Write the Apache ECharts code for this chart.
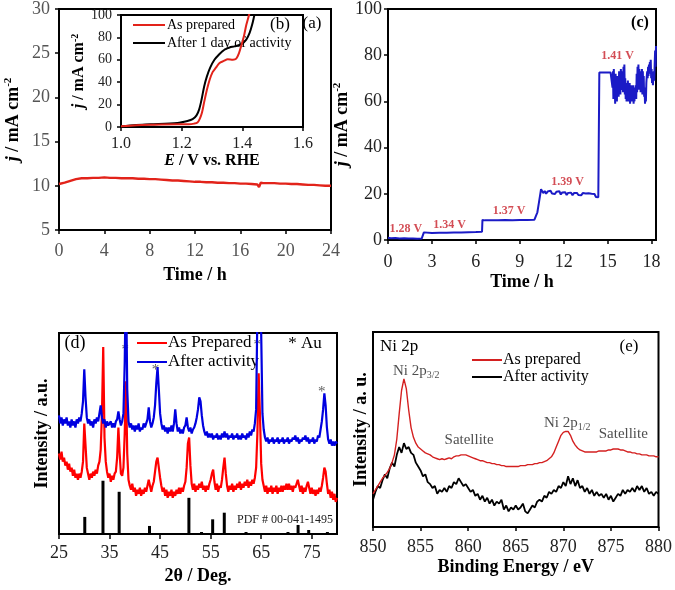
<!DOCTYPE html>
<html>
<head>
<meta charset="utf-8">
<script src="https://cdn.jsdelivr.net/npm/echarts@6/dist/echarts.min.js"></script>
<style>
html, body { margin: 0; padding: 0; background: #fff; }
#chart { width: 675px; height: 590px; }
</style>
</head>
<body>
<div id="chart"></div>
<script>
// (a) chronoamperometry at 10 mA cm-2
var chronoTime = [0,0.5,1,1.5,2,2.5,3,3.5,4,4.5,5,5.5,6,6.5,7,7.5,8,8.5,9,9.5,10,10.5,11,11.5,12,12.5,13,13.5,14,14.5,15,15.5,16,16.5,17,17.5,17.65,17.8,18,18.5,19,19.5,20,20.5,21,21.5,22,22.5,23,23.5,24];
var chronoCurrent = [10.2,10.35,10.55,10.75,10.85,10.85,10.9,10.9,10.95,10.9,10.9,10.85,10.85,10.85,10.8,10.8,10.75,10.75,10.7,10.65,10.6,10.6,10.55,10.5,10.45,10.45,10.4,10.4,10.35,10.35,10.3,10.3,10.25,10.25,10.2,10.15,9.85,10.35,10.3,10.3,10.3,10.25,10.25,10.2,10.2,10.15,10.1,10.1,10.05,10.0,10.0];

// (b) inset LSV
var lsvPotentialAsPrepared = [1.0,1.05,1.097,1.186,1.224,1.241,1.252,1.26,1.267,1.274,1.283,1.292,1.302,1.313,1.324,1.339,1.352,1.369,1.38,1.389,1.397,1.406,1.413,1.421,1.43];
var lsvAsPrepared = [0.6,1.6,2,2.4,2.4,3,4,7.5,13,22,33,42,49,53,57,59,60.5,60,61,66,73,82,91,99,108];
var lsvPotentialAfter = [1.0,1.05,1.097,1.186,1.219,1.236,1.249,1.258,1.266,1.274,1.283,1.294,1.308,1.324,1.341,1.358,1.374,1.397,1.413,1.424,1.432,1.439,1.445];
var lsvAfter = [0.6,1.8,2.4,3.6,5.4,7,10.4,16,25,36,45,53,60,65,69,71,72,74,78,84,91,99,106];

// (c) multi-step chronoamperometry
var stepTime = [0,0.2,0.5,0.8,1.1,1.4,1.7,2.0,2.3,2.42,
  2.45,2.5,3,3.5,4,4.5,5,5.5,6,6.42,
  6.45,6.6,7,7.5,8,8.5,9,9.5,10,10.1,
  10.2,10.3,10.4,10.45,
  10.5,10.6,10.7,10.8,10.9,11.0,11.1,11.2,11.3,11.4,11.5,11.6,11.7,11.8,11.9,12.0,12.1,12.2,12.3,12.4,
  12.5,12.6,12.7,12.8,12.9,13.0,13.1,13.2,13.3,13.4,13.5,13.6,13.7,13.8,13.9,14.0,14.1,14.2,14.3,
  14.36,14.4,14.43,14.8,15.2,15.27];
var stepCurrent = [1.0,0.8,0.9,0.7,0.8,0.6,0.7,0.5,0.6,0.5,
  3.3,2.8,3.0,3.1,3.1,3.3,3.3,3.4,3.5,3.6,
  8.7,8.5,8.6,8.6,8.7,8.6,8.7,8.7,8.8,9.0,
  12,16,20,22,
  21.5,20.3,21.2,20.0,21.0,20.4,21.3,20.1,20.8,19.9,20.9,20.2,21.1,19.7,20.6,19.8,20.7,19.5,20.4,19.6,
  20.5,19.4,20.3,19.6,20.4,19.5,20.2,19.4,20.3,19.6,20.1,19.4,20.2,19.5,20.0,19.3,19.9,18.6,19.2,
  18.5,18.8,72.5,72.5,72.5,72.4];
var noiseStart = 15.3, noiseStep = 0.03;
var noiseCurrent = [72,66,73,61,74,64,70,59,72,63,69,60,71,64,70,62,73,66,71,63,
  74,67,72,65,73,64,75,66,76,63,70,61,68,60,67,62,69,60,66,61,
  68,59,66,62,67,60,65,61,67,59,64,60,66,62,67,61,72,64,75,66,
  76,65,74,67,73,64,72,66,74,63,73,65,71,62,66,59,64,60,68,71,
  73,70,75,71,76,72,77,73,78,70,74,68,72,67,71,73,69,76,82,75,84];
var stepVoltages = ['1.28 V','1.34 V','1.37 V','1.39 V','1.41 V'];
var stepLabelTime = [1.21,4.21,8.27,12.27,15.67];
var stepLabelCurrent = [5.0,6.5,12.7,25.2,79.6];

// (d) XRD, sampled every 0.25 deg from 25 to 80
var xrdStart = 25, xrdStep = 0.25;
var xrdAsPrepared = [
  40,37,41,36,38,34,36,32,35,31,33,29,32,28,30,27,30,28,31,36,
  55,44,33,30,27,30,28,31,29,32,30,34,36,42,60,93,48,36,31,28,
  30,26,29,27,30,31,38,53,40,30,29,33,50,76,40,27,24,22,25,21,
  23,19,22,20,23,19,22,20,23,21,24,27,24,21,24,26,31,36,38,33,
  28,24,21,23,19,22,18,21,19,22,18,21,19,22,20,23,20,23,21,24,
  26,33,45,48,34,25,22,25,21,24,22,25,23,26,22,24,21,24,22,25,
  27,30,32,26,22,25,21,24,23,27,33,38,30,24,21,24,22,25,21,24,
  22,25,23,26,22,25,23,26,24,27,23,26,24,27,25,28,33,50,80,60,
  35,27,24,21,24,20,23,21,24,20,23,21,24,20,23,21,24,21,24,22,
  25,22,25,22,24,21,24,23,25,27,24,21,24,20,23,21,24,26,23,20,
  23,20,22,19,22,20,23,21,24,28,33,31,25,20,22,18,21,17,20,16,
  18];
var xrdAfter = [
  59,55,58,54,57,55,58,54,56,53,57,54,56,53,57,55,58,56,60,66,
  82,68,58,55,57,54,56,53,57,55,58,56,60,64,58,55,57,53,56,54,
  54,56,53,55,53,56,57,61,57,54,56,60,85,130,72,56,53,55,52,54,
  51,54,52,55,51,53,52,55,53,55,57,63,56,53,55,58,64,75,83,72,
  60,55,52,54,51,53,50,53,51,54,51,55,62,55,51,53,50,52,50,53,
  54,58,53,51,53,50,52,53,55,58,62,68,66,59,54,51,49,51,48,50,
  48,50,47,49,48,50,47,49,47,50,48,51,48,50,47,49,48,50,47,49,
  48,50,47,49,47,50,48,49,47,50,48,51,49,52,51,55,62,110,130,130,
  100,60,52,48,46,48,45,47,46,48,45,47,46,48,45,47,46,48,45,47,
  46,48,45,47,46,48,47,49,46,48,45,47,46,48,47,49,46,48,45,47,
  46,48,45,47,46,49,48,52,56,62,70,64,53,47,45,47,44,46,44,46,
  45];
var pdfAngle = [30.1,33.7,36.9,42.9,50.7,53.2,55.4,57.7,62.0,70.3,72.3,74.4,78.1];
var pdfHeight = [8.5,26.5,21,4,18,1,7.3,10.6,1,1,4.5,2,1];
var auAngle = [38.1,44.1,64.2,77.0];
var auHeight = [91.5,81.6,94,70.8];
var xrdTicks = [25,35,45,55,65,75];

// (e) XPS Ni 2p, sampled every 0.25 eV from 850 to 880
var xpsStart = 850, xpsStep = 0.25;
var xpsAsPrepared = [
  17,19,21,23,25,26.5,28,30,33,37,45,58,70,76,71,60,51,46,43,41,
  40,39,38,37.5,37,36,35.5,35,34.5,35,34.5,35,35.5,35,36,36.5,36.5,37,37,37,
  36.5,36,35.5,35,34.5,34,34,33.5,33,33,32.5,32.5,32,32,31.5,31.5,31,31,31,31,
  31,31,31.5,31.5,31.5,32,32,32,32.5,32.5,33,33,33.5,34,35,36,38,41,44,47,
  48.5,49,49,47,44,42,40.5,39.5,39,38.5,38.5,38.5,38.5,38.5,38.5,39,39,39,39,39.5,
  39.5,40,40,40,39.5,39.5,39,38.5,38.5,38,38,37.5,37.5,37,37,37,36.5,36.5,36.5,36,
  36];
var xpsAfter = [
  14,18,21,20,24,27,25,30,33,31,37,41,38,43,40,41,38,37,33,31,
  29,26,27,23,22,20,21,17,19,18,20,18,21,20,23,22,25,23,21,22,
  20,18,19,16,17,14,16,13,15,12,14,11,13,12,14,9,11,8,10,9,
  11,9,10,12,8,7,9,11,10,13,14,13,16,15,18,17,19,18,21,20,
  23,21,26,22,25,21,24,20,21,18,20,17,19,16,18,16,17,15,17,14,
  16,13,15,17,16,19,17,19,18,20,18,21,19,21,18,20,17,18,16,18,
  17];
var xpsPeakNames = ['{b|Ni 2p}{s|3/2}', '{b|Satellite}', '{b|Ni 2p}{s|1/2}', '{b|Satellite}'];
var xpsPeakEnergy = [854.55, 860.1, 870.4, 876.3];
var xpsPeakLevel = [79.8, 44.8, 53.3, 47.9];

var SERIF = '"Liberation Serif", "Times New Roman", serif';

function pairs(xs, ys) {
  return xs.map(function (x, i) { return [x, ys[i]]; });
}
function sampled(start, step, ys) {
  return ys.map(function (y, i) { return [+(start + i * step).toFixed(3), y]; });
}
function merge(a, b) {
  var out = {};
  Object.keys(a).forEach(function (k) { out[k] = a[k]; });
  Object.keys(b || {}).forEach(function (k) {
    if (b[k] && typeof b[k] === 'object' && !Array.isArray(b[k]) && a[k] && typeof a[k] === 'object') {
      out[k] = merge(a[k], b[k]);
    } else {
      out[k] = b[k];
    }
  });
  return out;
}
function axis(gridIndex, extra) {
  return merge({
    type: 'value',
    gridIndex: gridIndex,
    axisLine: { show: true, onZero: false, lineStyle: { color: '#000', width: 2 } },
    axisTick: { show: true, inside: false, length: 4, lineStyle: { color: '#000', width: 1.5 } },
    splitLine: { show: false },
    axisLabel: { fontFamily: SERIF, fontSize: 18, color: '#222' },
    nameLocation: 'middle',
    nameTextStyle: { fontFamily: SERIF, fontSize: 18, fontWeight: 'bold', color: '#000' }
  }, extra);
}

var jRich = {
  i: { fontFamily: SERIF, fontSize: 18, fontWeight: 'bold', fontStyle: 'italic', lineHeight: 20 },
  n: { fontFamily: SERIF, fontSize: 18, fontWeight: 'bold', lineHeight: 20 },
  sup: { fontFamily: SERIF, fontSize: 11, fontWeight: 'bold', verticalAlign: 'top', lineHeight: 12 }
};
var jRichSmall = {
  i: { fontFamily: SERIF, fontSize: 16, fontWeight: 'bold', fontStyle: 'italic', lineHeight: 18 },
  n: { fontFamily: SERIF, fontSize: 16, fontWeight: 'bold', lineHeight: 18 },
  sup: { fontFamily: SERIF, fontSize: 10, fontWeight: 'bold', verticalAlign: 'top', lineHeight: 10 }
};
var noAxisLabel = { show: false };

var chart = echarts.init(document.getElementById('chart'));

var option = {
  animation: false,
  backgroundColor: '#fff',
  grid: [
    { left: 59, top: 9, width: 272, height: 221, show: true, borderColor: '#000', borderWidth: 2 },
    { left: 121, top: 15, width: 182, height: 112, show: true, borderColor: '#000', borderWidth: 2, backgroundColor: '#fff' },
    { left: 388, top: 9, width: 268, height: 231, show: true, borderColor: '#000', borderWidth: 2 },
    { left: 59, top: 333, width: 278, height: 201, show: true, borderColor: '#000', borderWidth: 2 },
    { left: 373, top: 332, width: 286, height: 195, show: true, borderColor: '#000', borderWidth: 2 }
  ],
  xAxis: [
    axis(0, { min: 0, max: 24, interval: 4, name: 'Time / h', nameGap: 36,
      axisLabel: { color: '#555', margin: 12 } }),
    axis(1, { min: 1.0, max: 1.6, interval: 0.2, name: '{i|E}{n| / V vs. RHE}', nameGap: 24,
      nameTextStyle: { rich: jRichSmall },
      axisLabel: { fontSize: 16, margin: 9, formatter: function (v) { return v.toFixed(1); } } }),
    axis(2, { min: 0, max: 18.3, name: 'Time / h', nameGap: 33,
      axisLabel: { margin: 13, customValues: [0, 3, 6, 9, 12, 15, 18] },
      axisTick: { customValues: [0, 3, 6, 9, 12, 15, 18] } }),
    axis(3, { min: 25, max: 80, name: '2θ / Deg.', nameGap: 33,
      axisLabel: { margin: 10, customValues: xrdTicks },
      axisTick: { length: 5, customValues: xrdTicks } }),
    axis(4, { min: 850, max: 880, interval: 5, name: 'Binding Energy / eV', nameGap: 31,
      axisLabel: { margin: 11 } })
  ],
  yAxis: [
    axis(0, { min: 5, max: 30, interval: 5, name: '{i|j}{n| / mA cm}{sup|-2}', nameGap: 36,
      nameTextStyle: { rich: jRich }, axisLabel: { color: '#555', margin: 9 } }),
    axis(1, { min: 0, max: 100, interval: 20, name: '{i|j}{n| / mA cm}{sup|-2}', nameGap: 33,
      nameTextStyle: { rich: jRichSmall }, axisLabel: { fontSize: 14, margin: 9 } }),
    axis(2, { min: 0, max: 100, interval: 20, name: '{i|j}{n| / mA cm}{sup|-2}', nameGap: 31,
      nameTextStyle: { rich: jRich }, axisLabel: { margin: 6 } }),
    axis(3, { min: 0, max: 100, name: 'Intensity / a.u.', nameGap: 8,
      axisTick: { show: false }, axisLabel: noAxisLabel }),
    axis(4, { min: 0, max: 100, name: 'Intensity / a. u.', nameGap: 3,
      axisTick: { show: false }, axisLabel: noAxisLabel })
  ],
  series: [
    { type: 'line', xAxisIndex: 0, yAxisIndex: 0, showSymbol: false,
      data: pairs(chronoTime, chronoCurrent), lineStyle: { color: '#e2231a', width: 2.4 } },
    { type: 'line', xAxisIndex: 1, yAxisIndex: 1, showSymbol: false, smooth: 0.3,
      data: pairs(lsvPotentialAfter, lsvAfter), lineStyle: { color: '#000', width: 2 } },
    { type: 'line', xAxisIndex: 1, yAxisIndex: 1, showSymbol: false, smooth: 0.3,
      data: pairs(lsvPotentialAsPrepared, lsvAsPrepared), lineStyle: { color: '#e2231a', width: 2 } },
    { type: 'line', xAxisIndex: 2, yAxisIndex: 2, showSymbol: false,
      data: pairs(stepTime, stepCurrent).concat(sampled(noiseStart, noiseStep, noiseCurrent)),
      lineStyle: { color: '#1b1bc6', width: 2 } },
    { type: 'scatter', xAxisIndex: 2, yAxisIndex: 2, symbolSize: 1, silent: true,
      itemStyle: { color: 'rgba(0,0,0,0)' },
      data: stepVoltages.map(function (v, i) { return { name: v, value: [stepLabelTime[i], stepLabelCurrent[i]] }; }),
      label: { show: true, position: 'inside', formatter: '{b}', fontFamily: SERIF, fontSize: 12,
        fontWeight: 'bold', color: '#c8202a' } },
    { type: 'bar', xAxisIndex: 3, yAxisIndex: 3, barWidth: 3, silent: true,
      data: pairs(pdfAngle, pdfHeight), itemStyle: { color: '#000' } },
    { type: 'line', xAxisIndex: 3, yAxisIndex: 3, showSymbol: false,
      data: sampled(xrdStart, xrdStep, xrdAsPrepared), lineStyle: { color: '#f00', width: 2.2 } },
    { type: 'line', xAxisIndex: 3, yAxisIndex: 3, showSymbol: false,
      data: sampled(xrdStart, xrdStep, xrdAfter), lineStyle: { color: '#0000e0', width: 2.2 } },
    { type: 'scatter', xAxisIndex: 3, yAxisIndex: 3, symbolSize: 1, silent: true,
      itemStyle: { color: 'rgba(0,0,0,0)' },
      data: pairs(auAngle, auHeight),
      label: { show: true, position: 'inside', formatter: '*', fontFamily: SERIF, fontSize: 15, color: '#333' } },
    { type: 'line', xAxisIndex: 4, yAxisIndex: 4, showSymbol: false,
      data: sampled(xpsStart, xpsStep, xpsAfter), lineStyle: { color: '#000', width: 1.8 } },
    { type: 'line', xAxisIndex: 4, yAxisIndex: 4, showSymbol: false,
      data: sampled(xpsStart, xpsStep, xpsAsPrepared), lineStyle: { color: '#d42020', width: 1.4 } },
    { type: 'scatter', xAxisIndex: 4, yAxisIndex: 4, symbolSize: 1, silent: true,
      itemStyle: { color: 'rgba(0,0,0,0)' },
      data: xpsPeakNames.map(function (n, i) { return { name: n, value: [xpsPeakEnergy[i], xpsPeakLevel[i]] }; }),
      label: { show: true, position: 'inside', formatter: '{b}', color: '#222',
        rich: {
          b: { fontFamily: SERIF, fontSize: 15, color: '#222', lineHeight: 18 },
          s: { fontFamily: SERIF, fontSize: 10, color: '#222', verticalAlign: 'bottom', lineHeight: 12 }
        } } }
  ],
  graphic: [
    { type: 'text', x: 312, y: 24, style: { text: '(a)', font: '17px ' + SERIF, fill: '#000', align: 'center', verticalAlign: 'middle' } },
    { type: 'text', x: 280, y: 25, style: { text: '(b)', font: '17px ' + SERIF, fill: '#000', align: 'center', verticalAlign: 'middle' } },
    { type: 'line', shape: { x1: 133, y1: 25, x2: 165, y2: 25 }, style: { stroke: '#e2231a', lineWidth: 2 } },
    { type: 'text', x: 167, y: 25, style: { text: 'As prepared', font: '14px ' + SERIF, fill: '#000', verticalAlign: 'middle' } },
    { type: 'line', shape: { x1: 133, y1: 43, x2: 165, y2: 43 }, style: { stroke: '#000', lineWidth: 2 } },
    { type: 'text', x: 167, y: 43, style: { text: 'After 1 day of activity', font: '14px ' + SERIF, fill: '#000', verticalAlign: 'middle' } },
    { type: 'text', x: 640, y: 23, style: { text: '(c)', font: 'bold 16px ' + SERIF, fill: '#000', align: 'center', verticalAlign: 'middle' } },
    { type: 'text', x: 75, y: 343, style: { text: '(d)', font: '18px ' + SERIF, fill: '#000', align: 'center', verticalAlign: 'middle' } },
    { type: 'line', shape: { x1: 137, y1: 343, x2: 167, y2: 343 }, style: { stroke: '#f00', lineWidth: 2 } },
    { type: 'text', x: 168, y: 343, style: { text: 'As Prepared', font: '17px ' + SERIF, fill: '#000', verticalAlign: 'middle' } },
    { type: 'line', shape: { x1: 137, y1: 362, x2: 167, y2: 362 }, style: { stroke: '#0000e0', lineWidth: 2 } },
    { type: 'text', x: 168, y: 362, style: { text: 'After activity', font: '17px ' + SERIF, fill: '#000', verticalAlign: 'middle' } },
    { type: 'text', x: 305, y: 344, style: { text: '* Au', font: '17px ' + SERIF, fill: '#000', align: 'center', verticalAlign: 'middle' } },
    { type: 'text', x: 237, y: 520, style: { text: 'PDF # 00-041-1495', font: '12px ' + SERIF, fill: '#222', verticalAlign: 'middle' } },
    { type: 'text', x: 399, y: 347, style: { text: 'Ni 2p', font: '17px ' + SERIF, fill: '#000', align: 'center', verticalAlign: 'middle' } },
    { type: 'text', x: 629, y: 347, style: { text: '(e)', font: '17px ' + SERIF, fill: '#000', align: 'center', verticalAlign: 'middle' } },
    { type: 'line', shape: { x1: 472, y1: 360, x2: 502, y2: 360 }, style: { stroke: '#d42020', lineWidth: 2 } },
    { type: 'text', x: 503, y: 360, style: { text: 'As prepared', font: '16px ' + SERIF, fill: '#000', verticalAlign: 'middle' } },
    { type: 'line', shape: { x1: 472, y1: 377, x2: 502, y2: 377 }, style: { stroke: '#000', lineWidth: 2 } },
    { type: 'text', x: 503, y: 377, style: { text: 'After activity', font: '16px ' + SERIF, fill: '#000', verticalAlign: 'middle' } }
  ]
};

chart.setOption(option);
</script>
</body>
</html>
